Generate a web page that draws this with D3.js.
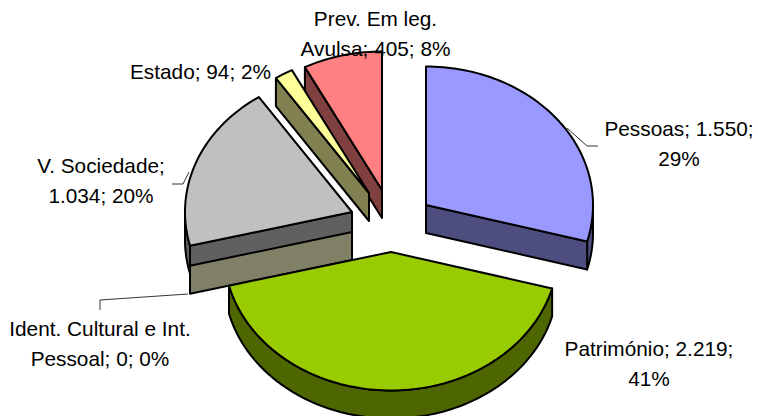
<!DOCTYPE html>
<html><head><meta charset="utf-8">
<script src="https://cdnjs.cloudflare.com/ajax/libs/d3/7.9.0/d3.min.js"></script>
<style>html,body{margin:0;padding:0;background:#fff}svg{display:block}</style>
</head><body><svg id="c" width="758" height="416"></svg>
<script>
const categories = ["Pessoas","Património","Ident. Cultural e Int. Pessoal","V. Sociedade","Estado","Prev. Em leg. Avulsa"];
const values = [1550,2219,0,1034,94,405];
const percents = [29,41,0,20,2,8];
const topColors = ["#9999FF","#99CC00","#FFFFCC","#C0C0C0","#FFFF99","#FF8080"];
const wallColors = ["#4D4D80","#4D6600","#808066","#606060","#808050","#804040"];
const labelLines = [["Pessoas; {v};","{p}%"],["Património; {v};","{p}%"],["Ident. Cultural e Int.","Pessoal; {v}; {p}%"],["V. Sociedade;","{v}; {p}%"],["Estado; {v}; {p}%"],["Prev. Em leg.","Avulsa; {v}; {p}%"]];

// layout of the exploded 3-D pie
const apex = [[426,205],[391,252],[352,232],[352,212],[369,193],[382,190]];
const labelAt = [[679,136],[649,356],[100,336],[101,173],[200.5,79],[375.5,26]];
const leaders = [[[567,128],[587,146],[598,146]],[[188,294],[100,300],[100,310]],[[172,184],[183,184],[189,172]]];
const drawOrder = [5,4,0,3,2,1];
const rx=167, ry=138.5, depth=28, lineH=30;

const fmt = d3.formatLocale({decimal:",",thousands:".",grouping:[3],currency:["",""]}).format(",d");
const arcs = d3.pie().sort(null).value(d=>d)(values);
const svg = d3.select("#c");
const line = d3.line();
const rad = d=>d*Math.PI/180;

function pt(i,a,dz=0){return [apex[i][0]+rx*Math.sin(a), apex[i][1]-ry*Math.cos(a)+dz];}
function arcPts(i,a0,a1,dz=0){
  const n=Math.max(1,Math.ceil((a1-a0)/rad(1.5)));
  return d3.range(n+1).map(k=>pt(i,a0+(a1-a0)*k/n,dz));
}
const stroke = s=>s.attr("stroke","#000").attr("stroke-width",2).attr("stroke-linejoin","round");

drawOrder.forEach(i=>{
  const {startAngle:a0,endAngle:a1}=arcs[i];
  const g=svg.append("g").attr("class","slice");
  const ap=apex[i];
  const face=a=>{
    const p=pt(i,a);
    g.append("path").attr("d",line([ap,p,[p[0],p[1]+depth],[ap[0],ap[1]+depth]])+"Z")
      .attr("fill",wallColors[i]).call(stroke);
  };
  // outer rim, visible on the near half of the ellipse
  const w0=Math.max(a0,Math.PI/2), w1=Math.min(a1,Math.PI*1.5);
  if(w1>w0 && a1>a0){
    g.append("path").attr("d",line(arcPts(i,w0,w1).concat(arcPts(i,w0,w1,depth).reverse()))+"Z")
      .attr("fill",wallColors[i]).call(stroke);
  }
  if(a0>=Math.PI) face(a0);
  if(a1>0 && a1<Math.PI) face(a1);
  if(a1>a0){
    g.append("path").attr("d",line([ap].concat(arcPts(i,a0,a1)))+"Z")
      .attr("fill",topColors[i]).call(stroke);
  }
});

leaders.forEach(l=>svg.append("path").attr("d",line(l)).attr("fill","none").attr("stroke","#000").attr("stroke-width",0.8));

categories.forEach((c,i)=>{
  const t=svg.append("text").attr("font-family","'Liberation Sans',Arial,sans-serif").attr("font-size",20.8)
    .attr("fill","#000").attr("text-anchor","middle");
  labelLines[i].forEach((s,k)=>{
    t.append("tspan").attr("x",labelAt[i][0]).attr("y",labelAt[i][1]+k*lineH)
      .text(s.replace("{v}",fmt(values[i])).replace("{p}",percents[i]));
  });
});
</script></body></html>
